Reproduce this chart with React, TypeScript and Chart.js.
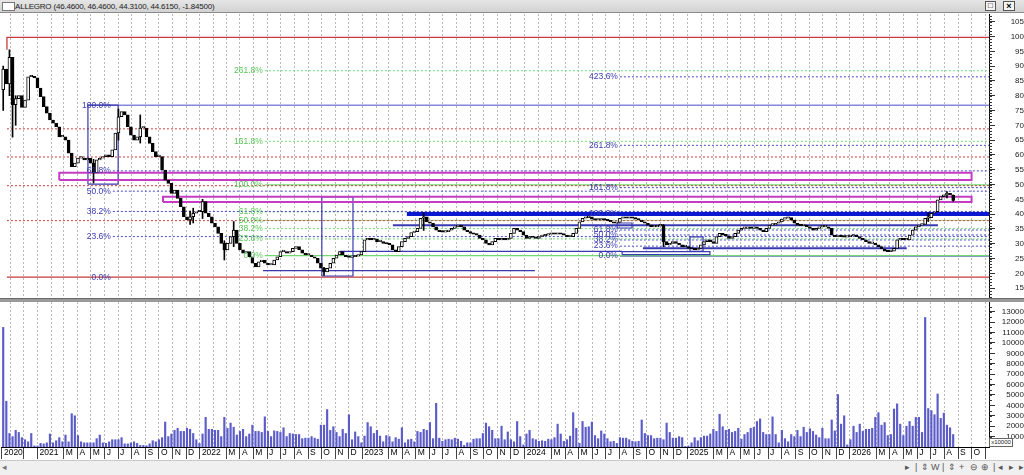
import React, { useEffect, useRef } from 'react';
import { Chart, registerables } from 'chart.js';

Chart.register(...registerables);

const TITLE = 'ALLEGRO (46.4600, 46.4600, 44.3100, 44.6150, -1.84500)';
const FONT = '"Liberation Sans", Arial, Helvetica, sans-serif';

// ---------- weekly candles (open of first week, then weekly closes) ----------
const FIRST_OPEN = 82;
const CLOSES = [
  89, 84, 93, 77, 79, 80, 76, 78.5, 86.4, 86.4,
  86, 82.6, 79.7, 76.3, 74.1, 71.8, 70.7, 69.5, 66.1, 66.1,
  65, 60.6, 56, 57.2, 58.9, 58.9, 58.3, 58.9, 57.2, 53.9,
  58.3, 58.9, 59.4, 60, 59.4, 61.7, 67.4, 72.9, 74.6, 73.5,
  69.5, 66.7, 65, 66.1, 69.1, 69.1, 66.1, 63.9, 61.1, 59.4,
  59.4, 54.9, 51.5, 50.4, 47, 48.1, 45.3, 42.5, 39.1, 38,
  39.1, 40.3, 40.8, 40.8, 44.2, 40.3, 39.1, 36.9, 35.7, 33.5,
  30.1, 27.9, 30.1, 32.4, 34.6, 30.1, 27.9, 26.8, 27.3, 25.6,
  23.4, 22.2, 23.9, 24.5, 23.4, 22.8, 22.8, 24.5, 25.6, 27.3,
  27.3, 26.8, 27.3, 28.4, 29, 27.9, 26.8, 26.2, 26.2, 25.6,
  25.1, 23.4, 21.7, 20.5, 21.7, 23.4, 25.1, 26.2, 27.3, 26.2,
  25.6, 25.4, 25.6, 25.8, 26.2, 27.3, 31.3, 31.8, 31.3, 31.5,
  30.7, 30.7, 30.1, 29.9, 29.6, 27.9, 27.3, 29, 30.7, 31.8,
  32.4, 33.8, 34.1, 35.2, 38.6, 39.1, 37.4, 36.9, 35.7, 34.6,
  34.1, 33.9, 34.1, 34.6, 35.2, 35.7, 36.3, 35.7, 34.6, 34.1,
  33.5, 33.2, 32.9, 31.8, 31.3, 30.1, 29.6, 30.7, 31.8, 31.3,
  31.8, 31.3, 31.8, 33.5, 35.2, 34.6, 34.1, 32.9, 31.8, 32.4,
  32.1, 31.8, 32.4, 32.7, 32.9, 33.2, 33.5, 33.2, 33.5, 33.2,
  32.9, 32.4, 32.4, 33.5, 35.2, 37.4, 38.6, 38.8, 39.1, 38.3,
  38, 38, 38.3, 38, 37.7, 37.4, 36.9, 37.2, 38.6, 39.1,
  38.6, 39.1, 38.6, 38.3, 38, 37.4, 36.9, 36.3, 35.7, 35.7,
  36, 36.3, 30.7, 29.6, 30.1, 30.7, 30.1, 29.6, 29, 29,
  28.4, 28.2, 27.9, 28.4, 29.6, 30.7, 31.3, 30.7, 30.1, 32.4,
  33.5, 32.9, 32.7, 31.8, 32.4, 33.5, 34.6, 35.2, 35.2, 35.4,
  35.2, 35.7, 35.2, 34.6, 34.1, 35.2, 36.3, 36.3, 36.9, 37.4,
  38.3, 38.6, 38.8, 38, 36.9, 36.3, 36.1, 36.3, 35.7, 35.2,
  34.6, 35.2, 35.7, 35.7, 35.7, 35.2, 32.9, 32.4, 32.6, 32.4,
  32.2, 32.4, 32.6, 32.9, 32.4, 31.8, 31.3, 30.7, 30.1, 30.1,
  29.6, 29, 28.2, 27.5, 27.3, 27.5, 28.4, 31.3, 31.5, 31.3,
  31.3, 32.9, 34.6, 35.7, 36.3, 36.5, 38.6, 38.8, 40.3, 40.8,
  44.8, 45.9, 46.5, 47, 46.46, 44.615,
];

// notable wicks: [week, low, high]
const WICKS = [
  [0, 75, 90], [2, 80, 95.5], [3, 66, 85], [4, 70, 80], [29, 50.5, 58.5],
  [37, 65, 75.5], [44, 64, 73.5], [60, 36.5, 41], [61, 37, 42], [64, 38.5, 45],
  [71, 24.5, 31], [74, 29, 37.5], [103, 19.3, 22], [135, 34.5, 40.5],
  [212, 29, 36.5], [297, 37.5, 40.5], [303, 45.5, 47.6], [305, 44.31, 46.46],
];

const VOLUMES = [
  11500, 4400, 1300, 1000, 1600, 1400, 900, 700, 500, 1300,
  100, 100, 350, 300, 400, 1250, 400, 600, 900, 500,
  1150, 500, 3200, 3000, 1100, 500, 400, 400, 400, 400,
  800, 1150, 400, 350, 500, 700, 700, 700, 900, 300,
  300, 400, 500, 350, 150, 150, 120, 300, 600, 500,
  700, 900, 2400, 1000, 1250, 1600, 1800, 1500, 1500, 1800,
  1700, 1300, 700, 350, 1250, 2850, 1700, 1700, 1600, 1600,
  1000, 2850, 1800, 2300, 1900, 1150, 1500, 1700, 1000, 1250,
  2100, 1500, 1500, 1400, 2900, 1500, 1000, 1550, 1500, 1400,
  1850, 1000, 1300, 1250, 1200, 1200, 800, 850, 850, 1000,
  850, 750, 2100, 2100, 3600, 1600, 1950, 1400, 1000, 1700,
  1300, 3100, 700, 1450, 1000, 400, 1050, 2350, 1950, 1300,
  1600, 1050, 500, 1100, 1000, 500, 900, 750, 1850, 400,
  700, 750, 500, 1500, 1400, 1700, 1600, 2350, 800, 4200,
  850, 550, 700, 750, 700, 850, 750, 550, 150, 400,
  400, 750, 800, 800, 1300, 2300, 1950, 1600, 800, 800,
  2000, 700, 1450, 700, 500, 2450, 1000, 200, 1250, 1600,
  800, 700, 550, 600, 550, 750, 700, 900, 2200, 1250,
  550, 700, 1050, 3300, 1800, 350, 2450, 1900, 1950, 2400,
  1100, 800, 1550, 1250, 800, 500, 550, 350, 900, 850,
  850, 700, 550, 500, 550, 2600, 1300, 1100, 1100, 800,
  850, 850, 700, 2300, 1400, 850, 850, 1000, 900, 50,
  100, 400, 900, 600, 900, 1050, 1050, 1250, 1700, 1500,
  3150, 1950, 1600, 1700, 1400, 1500, 1800, 750, 1200, 1400,
  1800, 1900, 2450, 2700, 1400, 1200, 1200, 2900, 1200, 400,
  1600, 800, 500, 1200, 1000, 1600, 1000, 1900, 1400, 1750,
  1500, 1150, 900, 1800, 800, 800, 2600, 1550, 5050, 2200,
  3000, 200, 700, 2000, 1400, 2200, 1500, 1700, 1700, 1800,
  2850, 3300, 2100, 2350, 1100, 1200, 3650, 4150, 2200, 1100,
  2000, 2450, 2000, 2850, 2850, 1400, 12450, 3700, 3500, 3100,
  5100, 2750, 3250, 2100, 1850, 1200,
];

// ---------- axes ----------
const PRICE_TICKS = [15, 20, 25, 30, 35, 40, 45, 50, 55, 60, 65, 70, 75, 80, 85, 90, 95, 100, 105];
const VOLUME_TICKS = [1000, 2000, 3000, 4000, 5000, 6000, 7000, 8000, 9000, 10000, 11000, 12000, 13000];
const FIRST_LABEL = '2020';
const MONTH_LETTERS = ['', '', 'M', 'A', 'M', 'J', 'J', 'A', 'S', 'O', 'N', 'D'];
const AXIS_YEARS = [2020, 2021, 2022, 2023, 2024, 2025, 2026];
const FIRST_MONTH = [2020, 10];
const LAST_MONTH = [2026, 10];
const WEEK_ZERO = Date.UTC(2020, 9, 16);
const X_RANGE = [-0.71, 316.5];
const PRICE_RANGE = [11.66, 107.6];
const VOLUME_RANGE = [0, 13940];

// ---------- drawing tools (week index, price) ----------
const RED_START_WEEK = 1.2;
const RED_SOLID_LEVELS = [99.7, 18.7];
const RED_TOP_STEM = [95.5, 99.7];
const RED_DOTTED_LEVELS = [37.8, 49.6, 59.3, 68.8];

const FIB_PCTS_LEFT = [0, 23.6, 38.2, 50, 61.8, 100];
const FIB_PCTS_GREEN = [0, 23.6, 38.2, 50, 61.8, 100, 161.8, 261.8];
const FIB_PCTS_RIGHT = [0, 23.6, 38.2, 50, 61.8, 100, 161.8, 261.8, 423.6];
const FIB_LEFT_ANCHOR = [18.7, 76.8];
const FIB_GREEN_ANCHOR = [26.0, 49.85];
const FIB_RIGHT_ANCHOR = [25.8, 40.1];
const FIB_LEFT_WEEK = 35.2;
const FIB_GREEN_WEEK = 84.0;
const FIB_RIGHT_WEEK = 198.0;

const THICK_BLUE = [40.0, 129.6];
const BLUE_LINES = [[36.2, 125.1, 300.1], [28.5, 205.4, 290.1], [27.4, 108, 198.7], [20.9, 83.4, 170.7]];
const BLUE_BOXES = [[27.2, 36.9, 50.1, 76.8], [102.3, 112.3, 19.1, 45.8], [220.5, 224.7, 27.4, 32.3], [197.1, 201.9, 35.3, 37.0], [198.7, 226.9, 26.3, 27.3]];
const MAGENTA_BOXES = [[18.0, 310.9, 51.5, 54.0], [51.3, 310.9, 44.1, 45.9]];

const RED = '#c83c3c';
const BLUE = '#3a3ab0';
const FIB_LINE_BLUE = '#4a4ac8';
const GREEN = '#72d872';
const GREEN_TEXT = '#58c858';
const THICK = '#0a18d0';
const MAGENTA = '#c43cc4';
const GRID = '#b8b8b8';
const VOL_COLOR = '#5c5cc8';

type MonthTick = { value: number; label: string; grid: boolean; mark: boolean };

function buildMonthTicks(): MonthTick[] {
  const out: MonthTick[] = [{ value: X_RANGE[0] + 0.3, label: FIRST_LABEL, grid: false, mark: true }];
  const first = FIRST_MONTH[0] * 12 + FIRST_MONTH[1];
  const last = LAST_MONTH[0] * 12 + LAST_MONTH[1];
  for (const y of AXIS_YEARS) {
    for (let m = 0; m < 12; m++) {
      const key = y * 12 + m;
      if (key < first || key > last) continue;
      const value = (Date.UTC(y, m, 1) - WEEK_ZERO) / (7 * 86400000);
      const firstYear = y === AXIS_YEARS[0];
      const label = key === last || firstYear ? '' : m === 0 ? String(y) : MONTH_LETTERS[m];
      out.push({ value, label, grid: true, mark: m !== 1 && key !== first });
    }
  }
  return out;
}

const fibLevel = (a: number[], pct: number) => a[0] + ((a[1] - a[0]) * pct) / 100;

function line(pts: { x: number; y: number }[], color: string, width: number, dash: number[] = [], order = 20) {
  return {
    type: 'line' as const,
    data: pts,
    borderColor: color,
    borderWidth: width,
    borderDash: dash,
    pointRadius: 0,
    pointHoverRadius: 0,
    fill: false,
    tension: 0,
    order,
  };
}
const hline = (level: number, from: number, to: number, color: string, width: number, dash: number[] = [], order = 20) =>
  line([{ x: from, y: level }, { x: to, y: level }], color, width, dash, order);
const box = (b: number[], color: string, width: number, order = 20) =>
  line([{ x: b[0], y: b[2] }, { x: b[1], y: b[2] }, { x: b[1], y: b[3] }, { x: b[0], y: b[3] }, { x: b[0], y: b[2] }], color, width, [], order);

function minorTicks(axis: string, step: number, from: number, to: number) {
  return {
    id: 'minor_' + axis,
    afterDraw(chart: any) {
      const s = chart.scales[axis];
      const ctx = chart.ctx;
      ctx.save();
      ctx.strokeStyle = '#333';
      ctx.lineWidth = 1;
      ctx.beginPath();
      for (let v = from; v <= to + 1e-9; v += step) {
        const py = Math.round(s.getPixelForValue(v)) + 0.5;
        if (py < s.top || py > s.bottom) continue;
        ctx.moveTo(s.left, py);
        ctx.lineTo(s.left + 3, py);
      }
      ctx.stroke();
      ctx.restore();
    },
  };
}

const fibLabelPlugin = {
  id: 'fibLabels',
  afterDatasetsDraw(chart: any) {
    const { ctx, scales } = chart;
    const x = scales.x;
    const y = scales.y;
    const sets: [number[], number[], number, string][] = [
      [FIB_PCTS_LEFT, FIB_LEFT_ANCHOR, FIB_LEFT_WEEK, BLUE],
      [FIB_PCTS_GREEN, FIB_GREEN_ANCHOR, FIB_GREEN_WEEK, GREEN_TEXT],
      [FIB_PCTS_RIGHT, FIB_RIGHT_ANCHOR, FIB_RIGHT_WEEK, BLUE],
    ];
    ctx.save();
    ctx.font = '8.5px ' + FONT;
    ctx.textAlign = 'right';
    ctx.textBaseline = 'middle';
    for (const [pcts, anchor, week, color] of sets) {
      ctx.fillStyle = color;
      for (const p of pcts) {
        ctx.fillText(p.toFixed(1) + '%', x.getPixelForValue(week) - 2, y.getPixelForValue(fibLevel(anchor, p)));
      }
    }
    ctx.restore();
  },
};

export default function App() {
  const priceRef = useRef<HTMLCanvasElement>(null);
  const volRef = useRef<HTMLCanvasElement>(null);

  useEffect(() => {
    const ticks = buildMonthTicks();
    const XMAX = X_RANGE[1] + 1;
    const opens = CLOSES.map((c, i) => (i === 0 ? FIRST_OPEN : CLOSES[i - 1]));
    const bodies = CLOSES.map((c, i) => ({ x: i, y: [opens[i], c] }));
    const bodyColors = CLOSES.map((c, i) => (c >= opens[i] ? '#ffffff' : '#000000'));
    const wicks = WICKS.map(([i, lo, hi]) => ({ x: i, y: [lo, hi] }));

    const ann: any[] = [];
    ann.push(line([{ x: RED_START_WEEK, y: RED_TOP_STEM[0] }, { x: RED_START_WEEK, y: RED_SOLID_LEVELS[0] }, { x: XMAX, y: RED_SOLID_LEVELS[0] }], RED, 1.3));
    ann.push(hline(RED_SOLID_LEVELS[1], RED_START_WEEK, XMAX, RED, 1.3));
    RED_DOTTED_LEVELS.forEach((l) => ann.push(hline(l, RED_START_WEEK, XMAX, RED, 1, [2, 2])));
    FIB_PCTS_LEFT.forEach((p) => {
      if (p === 0) return;
      if (p === 100) ann.push(hline(fibLevel(FIB_LEFT_ANCHOR, p), BLUE_BOXES[0][0], XMAX, FIB_LINE_BLUE, 1));
      else ann.push(hline(fibLevel(FIB_LEFT_ANCHOR, p), FIB_LEFT_WEEK, XMAX, FIB_LINE_BLUE, 1, [2, 2]));
    });
    FIB_PCTS_GREEN.forEach((p) => {
      const solid = p === 0 || p === 100;
      ann.push(hline(fibLevel(FIB_GREEN_ANCHOR, p), FIB_GREEN_WEEK, XMAX, GREEN, solid ? 1.3 : 1, solid ? [] : [2, 2]));
    });
    FIB_PCTS_RIGHT.forEach((p) => {
      const solid = p === 0 || p === 100;
      ann.push(hline(fibLevel(FIB_RIGHT_ANCHOR, p), FIB_RIGHT_WEEK, XMAX, FIB_LINE_BLUE, 1, solid ? [] : [2, 2]));
    });
    BLUE_LINES.forEach(([l, a, b], k) => ann.push(hline(l, a, b, BLUE, k < 2 ? 2 : 1.4, [], 15)));
    BLUE_BOXES.forEach((b) => ann.push(box(b, BLUE, 1.2, 15)));
    ann.push(hline(THICK_BLUE[0], THICK_BLUE[1], XMAX, THICK, 4, [], 12));
    MAGENTA_BOXES.forEach((b) => ann.push(box(b, MAGENTA, 2, 12)));

    const xGridColor = (c: any) => (ticks[c.index] && ticks[c.index].grid ? GRID : 'rgba(0,0,0,0)');

    const price = new Chart(priceRef.current as HTMLCanvasElement, {
      type: 'bar',
      data: {
        datasets: [
          { type: 'bar', data: bodies as any, backgroundColor: bodyColors, borderColor: '#000', borderWidth: 1, borderSkipped: false, barThickness: 3, minBarLength: 1.5, grouped: false, order: 1 } as any,
          { type: 'bar', data: wicks as any, backgroundColor: '#000', borderWidth: 0, barThickness: 1, grouped: false, order: 2 } as any,
          ...ann,
        ],
      },
      options: {
        responsive: false,
        animation: false,
        events: [],
        layout: { padding: { left: 1, right: 0, top: 0, bottom: 0 } },
        plugins: { legend: { display: false }, tooltip: { enabled: false } },
        scales: {
          x: {
            type: 'linear',
            min: X_RANGE[0],
            max: X_RANGE[1],
            offset: false,
            bounds: 'data',
            afterBuildTicks: (s: any) => { s.ticks = ticks.map((t) => ({ value: t.value })); },
            afterFit: (s: any) => { s.height = 0; s.paddingLeft = 0; s.paddingRight = 0; s.paddingTop = 0; s.paddingBottom = 0; },
            ticks: { display: false },
            grid: { display: true, drawTicks: false, color: xGridColor, lineWidth: 1, offset: false },
            border: { display: false, dash: [2, 2] },
          } as any,
          y: {
            type: 'linear',
            position: 'right',
            min: PRICE_RANGE[0],
            max: PRICE_RANGE[1],
            bounds: 'data',
            beginAtZero: false,
            afterBuildTicks: (s: any) => { s.ticks = PRICE_TICKS.map((v) => ({ value: v })); },
            afterFit: (s: any) => { s.width = 35; s.paddingTop = 0; s.paddingBottom = 0; },
            ticks: { autoSkip: false, crossAlign: 'far', padding: 13, color: '#222', font: { family: FONT, size: 8 }, callback: (v: any) => String(v) },
            grid: { drawOnChartArea: false, drawTicks: true, tickLength: 6, tickColor: '#333' },
            border: { display: true, color: '#000', width: 1 },
          } as any,
        },
      },
      plugins: [fibLabelPlugin, minorTicks('y', 1, 12, 107)],
    } as any);

    const vol = new Chart(volRef.current as HTMLCanvasElement, {
      type: 'bar',
      data: {
        datasets: [
          { data: VOLUMES.map((v, i) => ({ x: i, y: v })) as any, backgroundColor: VOL_COLOR, borderWidth: 0, barThickness: 1.5, grouped: false } as any,
        ],
      },
      options: {
        responsive: false,
        animation: false,
        events: [],
        layout: { padding: { left: 1, right: 0, top: 0, bottom: 0 } },
        plugins: { legend: { display: false }, tooltip: { enabled: false } },
        scales: {
          x: {
            type: 'linear',
            min: X_RANGE[0],
            max: X_RANGE[1],
            offset: false,
            bounds: 'data',
            afterBuildTicks: (s: any) => { s.ticks = ticks.map((t) => ({ value: t.value })); },
            afterFit: (s: any) => { s.height = 13; s.paddingLeft = 0; s.paddingRight = 0; s.paddingTop = 0; s.paddingBottom = 0; },
            ticks: {
              autoSkip: false, maxRotation: 0, minRotation: 0, align: 'start', labelOffset: 2, padding: -11,
              color: '#000', font: { family: FONT, size: 8.5 },
              callback: (_v: any, i: number) => (ticks[i] ? ticks[i].label : ''),
            },
            grid: {
              display: true, drawTicks: true, tickLength: 12, color: xGridColor, offset: false,
              tickColor: (c: any) => (ticks[c.index] && ticks[c.index].mark ? '#444' : 'rgba(0,0,0,0)'),
              tickBorderDash: [], tickWidth: 1,
            },
            border: { display: true, color: '#000', width: 1, dash: [2, 2] },
          } as any,
          y: {
            type: 'linear',
            position: 'right',
            min: VOLUME_RANGE[0],
            max: VOLUME_RANGE[1],
            bounds: 'data',
            afterBuildTicks: (s: any) => { s.ticks = VOLUME_TICKS.map((v) => ({ value: v })); },
            afterFit: (s: any) => { s.width = 35; s.paddingTop = 0; s.paddingBottom = 0; },
            ticks: { autoSkip: false, crossAlign: 'far', padding: 4, color: '#222', font: { family: FONT, size: 8 }, callback: (v: any) => String(v) },
            grid: { drawOnChartArea: false, drawTicks: true, tickLength: 6, tickColor: '#333' },
            border: { display: true, color: '#000', width: 1 },
          } as any,
        },
      },
      plugins: [minorTicks('y', 500, 500, 13500)],
    } as any);

    return () => {
      price.destroy();
      vol.destroy();
    };
  }, []);

  const icons: [number, string][] = [
    [905, '▸'], [915, '|'], [921, '⇕'], [931, 'W'], [942, '|'], [948, '⇕'], [959, '+'], [970, '⊖'], [981, '⊕'], [993, '|'], [998, '◂'], [1009, '▸'], [1019, '▸'],
  ];

  return (
    <div style={{ position: 'fixed', left: 0, top: 0, width: 1024, height: 475, background: '#fff', overflow: 'hidden', fontFamily: FONT }}>
      <div style={{ position: 'absolute', left: 0, top: 0, width: 1024, height: 13, background: 'linear-gradient(#e6e6e6, #d2d2d2)', borderBottom: '1px solid #8a8a8a', boxSizing: 'border-box' }}>
        <div style={{ position: 'absolute', left: 2, top: 2, width: 11, height: 7, background: '#fff', border: '1px solid #777' }} />
        <div style={{ position: 'absolute', left: 15, top: 1, fontSize: 8, lineHeight: '11px', color: '#222', whiteSpace: 'nowrap', letterSpacing: -0.2 }}>{TITLE}</div>
        <div style={{ position: 'absolute', left: 985, top: 1, width: 11, height: 10, background: '#f4f4f4', border: '1px solid #555', boxSizing: 'border-box', fontSize: 8, lineHeight: '8px', textAlign: 'center', color: '#000' }}>□</div>
        <div style={{ position: 'absolute', left: 1003, top: 1, width: 12, height: 10, background: '#f4f4f4', border: '1px solid #555', boxSizing: 'border-box', fontSize: 9, lineHeight: '8px', textAlign: 'center', color: '#000', fontWeight: 'bold' }}>×</div>
      </div>
      <canvas ref={priceRef} width={1024} height={284} style={{ position: 'absolute', left: 0, top: 14, width: 1024, height: 284 }} />
      <div style={{ position: 'absolute', left: 0, top: 298, width: 1024, height: 4, background: '#9a9a9a', borderTop: '1px solid #6a6a6a', boxSizing: 'border-box' }} />
      <canvas ref={volRef} width={1024} height={158} style={{ position: 'absolute', left: 0, top: 302, width: 1024, height: 158 }} />
      <div style={{ position: 'absolute', left: 989, top: 438, width: 24, height: 9, background: '#fff', border: '1px solid #666', boxSizing: 'border-box', fontSize: 6, lineHeight: '7px', color: '#222', textAlign: 'center' }}>x10000</div>
      <div style={{ position: 'absolute', left: 0, top: 460, width: 1024, height: 15, background: '#f0f0f0', borderTop: '1px solid #c8c8c8', boxSizing: 'border-box' }}>
        <div style={{ position: 'absolute', left: 2, top: 1, fontSize: 9, color: '#777' }}>◂</div>
        {icons.map(([x, g], k) => (
          <div key={k} style={{ position: 'absolute', left: x, top: 1, fontSize: 9, color: '#555' }}>{g}</div>
        ))}
      </div>
    </div>
  );
}
